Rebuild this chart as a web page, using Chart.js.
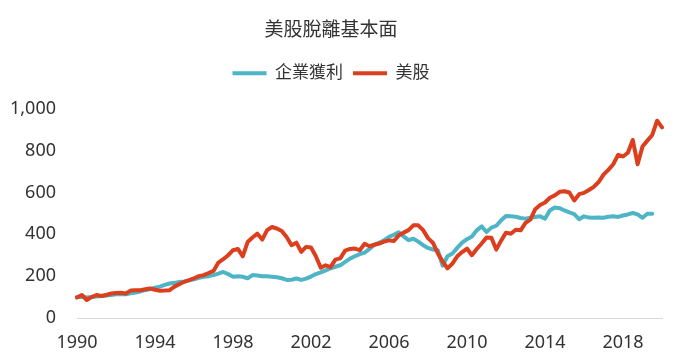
<!DOCTYPE html>
<html>
<head>
<meta charset="utf-8">
<script src="https://cdn.jsdelivr.net/npm/chart.js@4"></script>
<style>
  html, body { margin: 0; padding: 0; background: #fff; }
  #wrap { width: 680px; height: 363px; }
</style>
</head>
<body>
<div id="wrap"><canvas id="myChart"></canvas></div>
<script>
const ctx = document.getElementById("myChart");

// quarterly labels, 1990 Q1 .. 2020 Q1
const quarters = [];
for (let y = 1990; y <= 2020; y++) {
  for (let q = 1; q <= 4; q++) {
    if (y === 2020 && q > 1) break;
    quarters.push(y + " Q" + q);
  }
}

const tickYears = [1990, 1994, 1998, 2002, 2006, 2010, 2014, 2018];

// 企業獲利 (index, 1990 = 100)
const earnings = [
  100, 102, 98, 100, 103, 105, 108, 110, 113, 115, 113, 118,
  122, 127, 133, 138, 145, 150, 158, 165, 168, 172, 175, 180,
  185, 192, 197, 200, 205, 212, 220, 210, 197, 200, 197, 190,
  205, 203, 200, 200, 197, 195, 190, 182, 183, 189, 182, 188,
  198, 210, 218, 228, 237, 245, 252, 268, 284, 295, 305, 313,
  330, 350, 360, 372, 388, 398, 410, 390, 372, 379, 365, 348,
  335, 327, 324, 250, 295, 308, 335, 360, 377, 390, 419, 438,
  411, 432, 441, 467, 488, 486, 484, 478, 475, 480, 483, 486,
  475, 514, 528, 525, 514, 505, 497, 472, 486, 480, 479, 480,
  479, 484, 486, 483, 490, 495, 502, 495, 479, 498, 498,
];

// 美股 (index, 1990 = 100)
const stocks = [
  98, 110, 86, 100, 110, 105, 110, 117, 120, 121, 117, 131,
  133, 133, 137, 141, 135, 130, 131, 133, 150, 162, 173, 181,
  190, 200, 205, 215, 225, 265, 281, 300, 324, 330, 295, 363,
  385, 403, 375, 420, 435, 428, 416, 387, 348, 360, 316, 340,
  337, 295, 240, 252, 243, 279, 285, 322, 330, 332, 324, 355,
  343, 350, 356, 365, 371, 368, 395, 408, 420, 443, 443, 420,
  382, 360, 310, 270, 237, 260, 295, 315, 332, 300, 330, 356,
  385, 384, 327, 370, 408, 403, 422, 419, 455, 470, 520, 540,
  552, 575, 586, 603, 606, 600, 562, 592, 598, 612, 627, 650,
  685, 708, 735, 780, 772, 790, 851, 735, 820, 848, 875, 943,
  911,
];

const blue = "#4db5c6";
const red = "#dc3f1e";
const textColor = "#333333";
const fontFamily = "'Noto Sans', 'Noto Sans CJK TC', sans-serif";

// push the plot down a bit below the legend
const legendGap = {
  id: "legendGap",
  beforeInit(chart) {
    const fit = chart.legend.fit;
    chart.legend.fit = function () {
      fit.call(this);
      this.height += 17;
    };
  },
};

new Chart(ctx, {
  type: "line",
  data: {
    labels: quarters,
    datasets: [
      {
        label: "企業獲利",
        data: earnings,
        borderColor: blue,
        backgroundColor: blue,
        borderWidth: 4,
        pointRadius: 0,
        borderCapStyle: "round",
        borderJoinStyle: "round",
        order: 2,
      },
      {
        label: "美股",
        data: stocks,
        borderColor: red,
        backgroundColor: red,
        borderWidth: 4,
        pointRadius: 0,
        borderCapStyle: "round",
        borderJoinStyle: "round",
        order: 1,
      },
    ],
  },
  plugins: [legendGap],
  options: {
    responsive: true,
    maintainAspectRatio: false,
    animation: false,
    locale: "en-US",
    layout: { padding: { left: 0, right: 18, top: 0, bottom: 0 } },
    plugins: {
      title: {
        display: true,
        text: "美股脫離基本面",
        color: textColor,
        font: { family: fontFamily, size: 19, weight: "normal" },
        padding: { top: 19, bottom: 13 },
      },
      legend: {
        display: true,
        reverse: true,
        labels: {
          color: textColor,
          font: { family: fontFamily, size: 17 },
          usePointStyle: true,
          pointStyle: "line",
          pointStyleWidth: 34,
          boxHeight: 17,
          padding: 10,
        },
      },
      tooltip: { enabled: false },
    },
    scales: {
      x: {
        type: "category",
        grid: { display: false, drawTicks: false },
        border: { display: true, color: "#d9d9d9", width: 1 },
        ticks: {
          autoSkip: false,
          maxRotation: 0,
          minRotation: 0,
          padding: 14,
          color: textColor,
          font: { family: fontFamily, size: 18 },
          callback: function (value) {
            const lab = this.getLabelForValue(value);
            const yr = parseInt(lab, 10);
            return lab.endsWith("Q1") && tickYears.includes(yr) ? String(yr) : "";
          },
        },
        afterFit: (scale) => {
          scale.height = 45;
        },
      },
      y: {
        min: 0,
        max: 1000,
        grid: { display: false, drawTicks: false },
        border: { display: false },
        ticks: {
          stepSize: 200,
          padding: 21,
          color: textColor,
          font: { family: fontFamily, size: 18 },
        },
        afterFit: (scale) => {
          scale.width = 77;
        },
      },
    },
  },
});
</script>
</body>
</html>
